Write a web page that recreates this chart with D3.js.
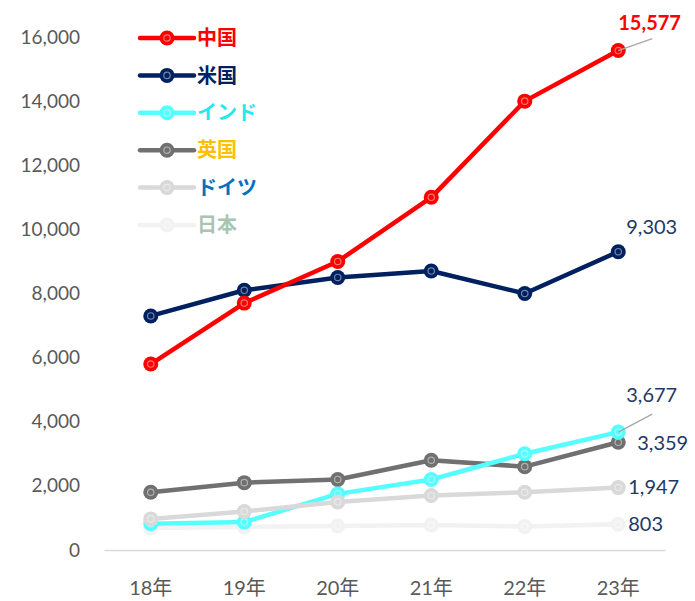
<html>
<script src='https://d3js.org/d3.v7.min.js'></script>
<style>
    body { margin: 0; background: #fff; }
    text { font-family: Lato, "Noto Sans CJK JP", sans-serif; }
</style>
<body>
<svg width=695 height=601 id="chart"></svg>
<script>
// data
const years = ["18年", "19年", "20年", "21年", "22年", "23年"];
const countries = ["中国", "米国", "インド", "英国", "ドイツ", "日本"];
const china   = [5800, 7700, 9000, 11000, 14000, 15577];
const usa     = [7300, 8100, 8500, 8700, 8000, 9303];
const india   = [820, 870, 1750, 2200, 3000, 3677];
const uk      = [1800, 2100, 2200, 2800, 2600, 3359];
const germany = [970, 1200, 1500, 1700, 1800, 1947];
const japan   = [690, 720, 750, 780, 730, 803];
const yTicks  = [0, 2000, 4000, 6000, 8000, 10000, 12000, 14000, 16000];

const lineColors   = ["#ff0000", "#002060", "#55ffff", "#707070", "#d9d9d9", "#f2f2f2"];
const legendColors = ["#ff0000", "#002060", "#22e8f0", "#ffc000", "#0070c0", "#a9c4b4"];
// which series is painted first (bottom) to last (top)
const drawOrder = [5, 3, 2, 4, 1, 0];

const series = [china, usa, india, uk, germany, japan].map(function (v, i) {
    return { name: countries[i], values: v, color: lineColors[i], legend: legendColors[i] };
});

var svg = d3.select("#chart");

var x = d3.scaleBand().domain(years).range([104, 665]);
var y = d3.scaleLinear().domain([0, 16000]).range([550, 37]);
var cx = function (d, i) { return x(years[i]) + x.bandwidth() / 2; };
var fmt = d3.format(",");

// y axis labels
svg.append("g")
    .attr("transform", "translate(80,0)")
    .call(d3.axisLeft(y).tickValues(yTicks).tickFormat(fmt).tickSize(0).tickPadding(0))
    .call(function (g) { g.select(".domain").remove(); })
    .selectAll("text")
    .attr("font-size", 19)
    .attr("fill", "#595959");

// baseline + x labels
svg.append("g")
    .attr("transform", "translate(0,550)")
    .call(d3.axisBottom(x).tickSize(0).tickPadding(31))
    .call(function (g) { g.select(".domain").attr("stroke", "#d9d9d9").attr("stroke-width", 1.5); })
    .selectAll("text")
    .attr("font-size", 20)
    .attr("fill", "#595959");

var line = d3.line().x(cx).y(function (d) { return y(d); });

drawOrder.forEach(function (k) {
    var s = series[k];
    var g = svg.append("g");
    g.append("path")
        .attr("d", line(s.values))
        .attr("fill", "none")
        .attr("stroke", s.color)
        .attr("stroke-width", 4.5)
        .attr("stroke-linejoin", "round");
    g.selectAll("circle.m")
        .data(s.values)
        .enter()
        .append("circle")
        .attr("class", "m")
        .attr("cx", cx)
        .attr("cy", function (d) { return y(d); })
        .attr("r", 7.5)
        .attr("fill", s.color);
    g.selectAll("circle.in")
        .data(s.values)
        .enter()
        .append("circle")
        .attr("class", "in")
        .attr("cx", cx)
        .attr("cy", function (d) { return y(d); })
        .attr("r", 3.2)
        .attr("fill", "none")
        .attr("stroke", "#ffffff")
        .attr("stroke-opacity", 0.45)
        .attr("stroke-width", 1.2);
});

// end-of-line value labels
var last = years.length - 1;
var lx = x(years[last]) + x.bandwidth() / 2;
var labels = [
    { s: 0, dx: 0,  dy: -28, color: "#ff0000", bold: true, leader: true },
    { s: 1, dx: 8,  dy: -25, color: "#1f3864" },
    { s: 2, dx: 8,  dy: -37, color: "#1f3864", leader: true },
    { s: 3, dx: 19, dy: 1,   color: "#1f3864" },
    { s: 4, dx: 10, dy: -1,  color: "#1f3864" },
    { s: 5, dx: 10, dy: 0,   color: "#1f3864" }
];
labels.forEach(function (l) {
    var v = series[l.s].values[last];
    if (l.leader) {
        svg.append("line")
            .attr("x1", lx).attr("y1", y(v))
            .attr("x2", lx + 34).attr("y2", y(v) - (l.s == 0 ? 12 : 18))
            .attr("stroke", "#a6a6a6").attr("stroke-width", 1.2);
    }
    svg.append("text")
        .attr("x", lx + l.dx)
        .attr("y", y(v) + l.dy)
        .attr("dy", "0.35em")
        .attr("font-size", 20)
        .attr("font-weight", l.bold ? "bold" : "normal")
        .attr("fill", l.color)
        .text(fmt(v));
});

// legend
var leg = svg.append("g").attr("transform", "translate(140,38)");
series.forEach(function (s, i) {
    var row = leg.append("g").attr("transform", "translate(0," + (i * 37.4) + ")");
    row.append("line").attr("x1", 0).attr("x2", 54).attr("stroke", s.color)
        .attr("stroke-width", 4.5).attr("stroke-linecap", "round");
    row.append("circle").attr("cx", 27).attr("r", 7.5).attr("fill", s.color);
    row.append("circle").attr("cx", 27).attr("r", 3.2).attr("fill", "none")
        .attr("stroke", "#fff").attr("stroke-opacity", 0.45).attr("stroke-width", 1.2);
    row.append("text")
        .attr("x", 57).attr("dy", "0.36em")
        .attr("font-size", 20).attr("font-weight", "bold")
        .attr("font-family", "'Noto Sans CJK JP', sans-serif")
        .attr("fill", s.legend)
        .text(s.name);
});
</script>
</body>
</html>
